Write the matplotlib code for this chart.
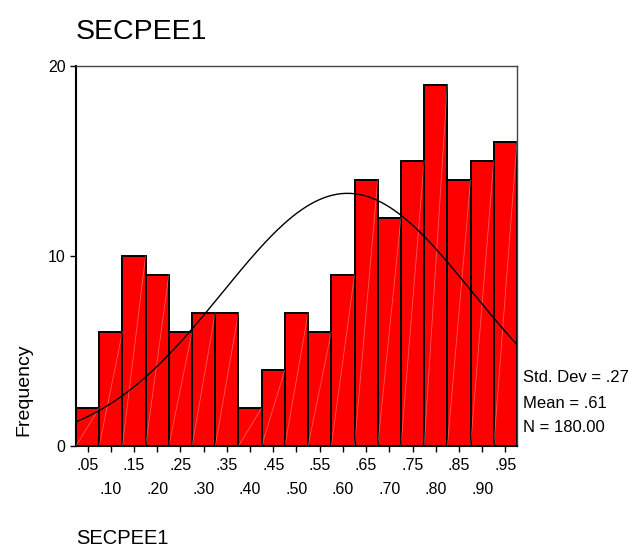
import numpy as np
import matplotlib.pyplot as plt

plt.rcParams['font.family'] = ['Liberation Sans', 'DejaVu Sans']

# bin midpoints and counts
midpoints = [.05, .10, .15, .20, .25, .30, .35, .40, .45, .50,
             .55, .60, .65, .70, .75, .80, .85, .90, .95]
counts = [2, 6, 10, 9, 6, 7, 7, 2, 4, 7, 6, 9, 14, 12, 15, 19, 14, 15, 16]
tick_labels = ['.05', '.10', '.15', '.20', '.25', '.30', '.35', '.40', '.45', '.50',
               '.55', '.60', '.65', '.70', '.75', '.80', '.85', '.90', '.95']
std_dev = .27
mean = .61
n = 180
bin_width = .05

fig = plt.figure(figsize=(6.29, 5.5), dpi=100)
ax = fig.add_axes([0.1208, 0.1891, 0.7011, 0.6909])

ax.bar(midpoints, counts, width=bin_width, color='#ff0000',
       edgecolor='black', linewidth=1.4, zorder=2)

# faint diagonal streaks inside each bar
for m, c in zip(midpoints, counts):
    ax.plot([m - bin_width / 2, m + bin_width / 2], [0, c], color='white',
            lw=0.6, alpha=0.35, zorder=3)

# normal curve
xs = np.linspace(.025, .975, 200)
ys = n * bin_width / (std_dev * np.sqrt(2 * np.pi)) * np.exp(-0.5 * ((xs - mean) / std_dev) ** 2)
ax.plot(xs, ys, color='black', lw=1.0, zorder=4)

ax.set_xlim(.025, .975)
ax.set_ylim(0, 20)
ax.set_yticks([0, 10, 20])
ax.set_xticks(midpoints)
ax.set_xticklabels([t if i % 2 == 0 else '\n' + t for i, t in enumerate(tick_labels)],
                   linespacing=1.7)
ax.tick_params(axis='both', direction='out', length=4, width=1, labelsize=11.5)
ax.tick_params(axis='x', pad=5)

for s in ['left', 'bottom']:
    ax.spines[s].set_linewidth(1.5)
for s in ['top', 'right']:
    ax.spines[s].set_linewidth(1.0)
    ax.spines[s].set_color('#444444')

fig.text(0.1208, 1 - 39 / 550, 'SECPEE1', fontsize=20.5, va='baseline', ha='left')
fig.text(0.1208, 1 - 544 / 550, 'SECPEE1', fontsize=14.5, va='baseline', ha='left')
fig.text(24 / 629, 1 - 390 / 550, 'Frequency', fontsize=14, rotation=90, va='center', ha='center')

stats = ['Std. Dev = .27', 'Mean = .61', 'N = 180.00']
for i, s in enumerate(stats):
    fig.text(523 / 629, 1 - (378 + 25 * i) / 550, s, fontsize=12, va='center', ha='left')

fig.savefig('out.png', dpi=100)
